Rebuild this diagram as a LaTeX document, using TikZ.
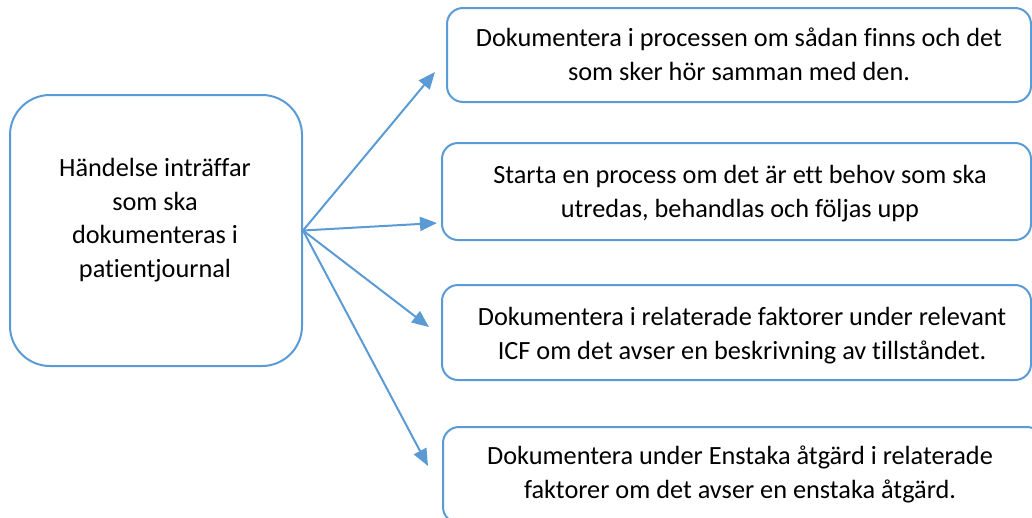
\documentclass[tikz,border=0pt]{standalone}
\usepackage{fontspec}
\setmainfont[Ligatures=NoCommon]{Carlito}
\usetikzlibrary{arrows.meta}
\definecolor{lineblue}{RGB}{91,155,213}
\tikzset{
  box/.style={draw=lineblue, line width=2pt, rounded corners=16pt, fill=white, inner sep=0pt},
  txt/.style={align=center, inner sep=0pt, anchor=base, font=\fontsize{26.3}{33.5}\selectfont, text=black},
  conn/.style={draw=lineblue, line width=2pt, -{Triangle[length=17pt,width=14pt]}}
}
\begin{document}
\begin{tikzpicture}[x=1pt,y=-1pt]
\useasboundingbox (0,0) rectangle (1032,517);
\clip (0,0) rectangle (1032,517);
\node[box, rounded corners=40pt, minimum width=292pt, minimum height=271pt] (L) at (156,230.5) {};
\node[txt] (Lt) at (155,277) {Händelse inträffar\\som ska\\dokumenteras i\\patientjournal};
\node[box, minimum width=584pt, minimum height=94pt] (B1) at (739,55) {};
\node[txt] (T1) at (739,80) {Dokumentera i processen om sådan finns och det\\som sker hör samman med den.};
\node[box, minimum width=589pt, minimum height=97pt] (B2) at (736.5,191.5) {};
\node[txt] (T2) at (740,217) {Starta en process om det är ett behov som ska\\utredas, behandlas och följas upp};
\node[box, minimum width=589pt, minimum height=95pt] (B3) at (736.5,332.5) {};
\node[txt] (T3) at (742,359) {Dokumentera i relaterade faktorer under relevant\\ICF om det avser en beskrivning av tillståndet.};
\node[box, minimum width=600pt, minimum height=96pt] (B4) at (743,475) {};
\node[txt] (T4) at (740,498) {Dokumentera under Enstaka åtgärd i relaterade\\faktorer om det avser en enstaka åtgärd.};
\coordinate (t1) at (435,72);
\coordinate (t2) at (437,223);
\coordinate (t3) at (429,327);
\coordinate (t4) at (428,466);
\draw[conn] (L.east) -- (t1);
\draw[conn] (L.east) -- (t2);
\draw[conn] (L.east) -- (t3);
\draw[conn] (L.east) -- (t4);
\end{tikzpicture}
\end{document}
